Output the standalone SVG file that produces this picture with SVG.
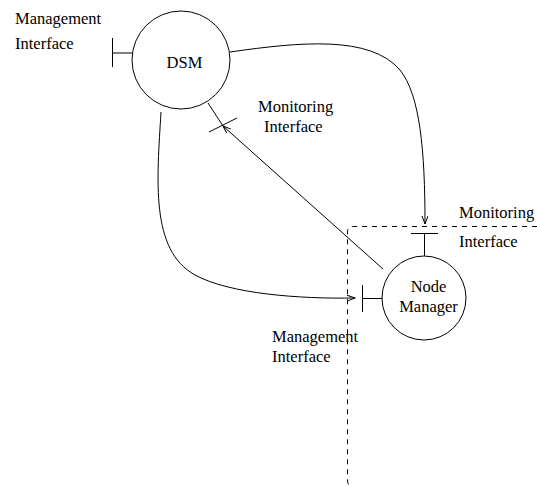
<svg xmlns="http://www.w3.org/2000/svg" width="537" height="486" viewBox="0 0 537 486">
<defs>
<style>
.ln{fill:none;stroke:#000;stroke-width:1}
.nd{fill:#fff;stroke:#000;stroke-width:1}
.tx{font-family:"Liberation Serif","Times New Roman",serif;font-size:16.5px;fill:#000}
.ds{fill:none;stroke:#000;stroke-width:1;stroke-dasharray:5,5}
</style>
<marker id="ah" markerUnits="userSpaceOnUse" markerWidth="10" markerHeight="8" refX="8" refY="3" orient="auto">
<path d="M0,0 L8,3 L0,6" fill="none" stroke="#000" stroke-width="1"/>
</marker>
</defs>
<rect width="537" height="486" fill="#fff"/>
<g id="boundary">
<path class="ds" d="M537,226.5 H353 Q347.5,226.5 347.5,232 V480 Q347.5,487 354,487 H537"/>
</g>
<g id="connectors">
<path class="ln" d="M230,52 C300,42 370,35 400,70 C420,95 425,150 425,224" marker-end="url(#ah)"/>
<path class="ln" d="M161,112 C157,180 150,250 195,275 C230,294 300,299 355,298" marker-end="url(#ah)"/>
<path class="ln" d="M383,269 L223,126" marker-end="url(#ah)"/>
</g>
<g id="dsm">
<circle class="nd" cx="181" cy="60" r="49"/>
<text class="tx" x="184.5" y="68" text-anchor="middle">DSM</text>
</g>
<g id="dsm-management-interface">
<path class="ln" d="M112,53 H132 M112.5,38 V67"/>
<text class="tx" x="15" y="24">Management</text>
<text class="tx" x="15" y="49">Interface</text>
</g>
<g id="dsm-monitoring-interface">
<path class="ln" d="M208,103 L223,126 M209,132 L237,118"/>
<text class="tx" x="258" y="112">Monitoring</text>
<text class="tx" x="264" y="132">Interface</text>
</g>
<g id="node-manager">
<circle class="nd" cx="424" cy="298" r="42"/>
<text class="tx" x="428.5" y="292" text-anchor="middle">Node</text>
<text class="tx" x="428.5" y="312" text-anchor="middle">Manager</text>
</g>
<g id="nm-monitoring-interface">
<path class="ln" d="M411,233.5 H438 M424.5,233.5 V256"/>
<text class="tx" x="459" y="218">Monitoring</text>
<text class="tx" x="459" y="247">Interface</text>
</g>
<g id="nm-management-interface">
<path class="ln" d="M362,298.5 H382 M362.5,285 V312"/>
<text class="tx" x="272" y="342">Management</text>
<text class="tx" x="272" y="362">Interface</text>
</g>
</svg>
